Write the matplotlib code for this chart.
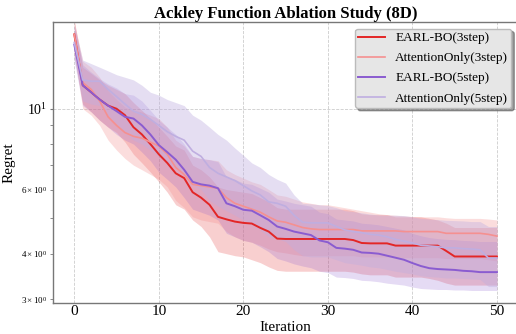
import numpy as np
import matplotlib
matplotlib.use("Agg")
import matplotlib.pyplot as plt

plt.rcParams['font.family'] = ['Liberation Serif', 'DejaVu Serif']
plt.rcParams['mathtext.fontset'] = 'stix'

iterations = list(range(51))

earl3_mean = [16.0, 11.6, 11.1, 10.6, 10.2, 10.0, 9.6, 8.9, 8.5, 8.0,
              7.5, 7.1, 6.65, 6.45, 5.9, 5.7, 5.45, 5.05, 4.97, 4.9,
              4.86, 4.84, 4.71, 4.60, 4.40, 4.39, 4.39, 4.39, 4.39, 4.39,
              4.39, 4.39, 4.39, 4.36, 4.28, 4.27, 4.27, 4.27, 4.21, 4.21,
              4.21, 4.21, 4.21, 4.21, 4.07, 3.93, 3.93, 3.93, 3.93, 3.93, 3.93]
earl3_low = [14.0, 10.3, 9.8, 9.3, 8.9, 8.6, 8.1, 7.5, 7.1, 6.7,
             6.3, 5.9, 5.45, 5.3, 4.95, 4.75, 4.45, 4.05, 4.0, 3.95,
             3.92, 3.85, 3.78, 3.68, 3.6, 3.58, 3.58, 3.58, 3.58, 3.58,
             3.58, 3.58, 3.58, 3.56, 3.52, 3.5, 3.5, 3.5, 3.45, 3.45,
             3.45, 3.45, 3.42, 3.38, 3.32, 3.28, 3.28, 3.28, 3.28, 3.28, 3.28]
earl3_high = [17.5, 13.0, 12.5, 12.0, 11.6, 11.3, 11.0, 10.4, 9.9, 9.4,
              8.9, 8.4, 7.9, 7.7, 7.0, 6.8, 6.5, 6.1, 6.0, 5.95,
              5.9, 5.85, 5.7, 5.55, 5.35, 5.3, 5.3, 5.3, 5.3, 5.3,
              5.3, 5.3, 5.3, 5.25, 5.15, 5.12, 5.12, 5.12, 5.05, 5.05,
              5.05, 5.05, 5.0, 4.95, 4.85, 4.72, 4.72, 4.72, 4.72, 4.72, 4.72]

att3_mean = [16.0, 11.8, 11.3, 10.5, 9.5, 9.0, 8.6, 8.4, 8.3, 8.1,
             7.9, 7.5, 6.9, 6.6, 6.2, 6.15, 6.1, 6.05, 5.7, 5.5,
             5.4, 5.3, 5.2, 5.05, 4.92, 4.88, 4.8, 4.72, 4.68, 4.66,
             4.66, 4.66, 4.66, 4.66, 4.62, 4.62, 4.62, 4.62, 4.62, 4.6,
             4.6, 4.6, 4.6, 4.6, 4.55, 4.55, 4.55, 4.55, 4.55, 4.52, 4.47]
att3_low = [14.2, 10.0, 9.6, 9.0, 8.2, 7.7, 7.3, 7.0, 6.8, 6.6,
            6.4, 6.1, 5.6, 5.35, 5.05, 4.95, 4.9, 4.85, 4.6, 4.45,
            4.35, 4.3, 4.22, 4.12, 4.05, 4.02, 3.98, 3.95, 3.95, 3.95,
            3.95, 3.95, 3.95, 3.95, 3.92, 3.92, 3.92, 3.92, 3.92, 3.9,
            3.9, 3.9, 3.9, 3.9, 3.88, 3.88, 3.88, 3.88, 3.88, 3.85, 3.82]
att3_high = [17.3, 13.5, 13.0, 12.2, 11.2, 10.6, 10.1, 9.9, 9.8, 9.6,
             9.4, 8.9, 8.2, 7.9, 7.4, 7.3, 7.25, 7.2, 6.8, 6.6,
             6.45, 6.3, 6.2, 6.0, 5.8, 5.75, 5.65, 5.55, 5.5, 5.45,
             5.45, 5.4, 5.35, 5.3, 5.25, 5.2, 5.15, 5.12, 5.1, 5.08,
             5.06, 5.05, 5.05, 5.05, 5.02, 5.0, 5.0, 5.0, 5.0, 4.98, 4.95]

earl5_mean = [15.0, 11.6, 11.1, 10.6, 10.2, 9.85, 9.5, 9.4, 9.0, 8.5,
              7.95, 7.6, 7.25, 6.8, 6.3, 6.2, 6.15, 6.05, 5.5, 5.4,
              5.28, 5.25, 5.1, 4.95, 4.75, 4.68, 4.6, 4.55, 4.5, 4.35,
              4.3, 4.15, 4.13, 4.1, 4.03, 4.02, 4.0, 3.95, 3.9, 3.85,
              3.77, 3.7, 3.65, 3.63, 3.62, 3.61, 3.59, 3.58, 3.56, 3.56, 3.56]
earl5_low = [13.5, 10.2, 9.8, 9.3, 8.9, 8.5, 8.2, 8.0, 7.6, 7.2,
             6.7, 6.4, 6.1, 5.7, 5.3, 5.2, 5.1, 4.95, 4.55, 4.45,
             4.35, 4.3, 4.18, 4.05, 3.88, 3.82, 3.75, 3.7, 3.66, 3.58,
             3.55, 3.45, 3.44, 3.42, 3.38, 3.37, 3.35, 3.32, 3.3, 3.28,
             3.24, 3.21, 3.2, 3.19, 3.19, 3.18, 3.18, 3.17, 3.17, 3.17, 3.17]
earl5_high = [16.8, 13.2, 12.6, 12.1, 11.7, 11.4, 11.0, 10.9, 10.5, 9.9,
              9.3, 8.9, 8.5, 8.0, 7.4, 7.3, 7.25, 7.15, 6.5, 6.4,
              6.25, 6.2, 6.05, 5.9, 5.65, 5.58, 5.5, 5.45, 5.4, 5.2,
              5.15, 4.98, 4.95, 4.92, 4.85, 4.83, 4.8, 4.75, 4.7, 4.65,
              4.55, 4.48, 4.43, 4.4, 4.38, 4.37, 4.35, 4.34, 4.32, 4.32, 4.32]

att5_mean = [15.2, 12.0, 11.9, 11.9, 11.3, 10.8, 10.3, 9.85, 9.65, 9.35,
             9.0, 8.65, 8.4, 8.2, 7.65, 7.4, 6.9, 6.65, 6.5, 6.35,
             6.15, 5.95, 5.8, 5.55, 5.5, 5.4, 5.1, 4.88, 4.86, 4.86,
             4.86, 4.75, 4.65, 4.6, 4.57, 4.52, 4.5, 4.45, 4.38, 4.33,
             4.28, 4.22, 4.2, 4.18, 4.15, 4.15, 4.13, 4.12, 4.1, 3.89, 3.89]
att5_low = [13.8, 10.5, 10.3, 10.2, 9.6, 9.1, 8.6, 8.2, 8.0, 7.7,
            7.4, 7.1, 6.85, 6.65, 6.2, 6.0, 5.6, 5.4, 5.25, 5.1,
            4.95, 4.8, 4.65, 4.45, 4.4, 4.32, 4.1, 3.95, 3.92, 3.92,
            3.92, 3.85, 3.78, 3.75, 3.72, 3.68, 3.66, 3.62, 3.58, 3.55,
            3.52, 3.48, 3.46, 3.45, 3.43, 3.43, 3.42, 3.41, 3.4, 3.25, 3.25]
att5_high = [17.0, 13.6, 13.3, 13.0, 12.7, 12.4, 12.2, 12.0, 11.6, 11.1,
             10.9, 10.6, 10.4, 10.2, 9.6, 9.3, 8.9, 8.5, 8.2, 7.8,
             7.45, 7.1, 6.9, 6.6, 6.4, 6.25, 5.8, 5.5, 5.48, 5.45,
             5.42, 5.35, 5.25, 5.22, 5.18, 5.14, 5.11, 5.1, 5.1, 5.09,
             5.05, 5.0, 4.98, 4.96, 4.94, 4.93, 4.92, 4.9, 4.9, 4.75, 4.75]

labels = ['EARL-BO(3step)', 'AttentionOnly(3step)', 'EARL-BO(5step)', 'AttentionOnly(5step)']
colors = ['#e32626', '#f59090', '#8a5cd0', '#bfaee0']
fill_alphas = [0.22, 0.3, 0.22, 0.4]
line_widths = [1.4, 1.2, 1.4, 1.2]

series = [
    (earl3_mean, earl3_low, earl3_high),
    (att3_mean, att3_low, att3_high),
    (earl5_mean, earl5_low, earl5_high),
    (att5_mean, att5_low, att5_high),
]

fig = plt.figure(figsize=(5.16, 3.34), dpi=100)
ax = fig.add_axes([0.103, 0.093, 0.901, 0.841])

for (m, lo, hi), lab, c, fa, lw in zip(series, labels, colors, fill_alphas, line_widths):
    ax.fill_between(iterations, lo, hi, color=c, alpha=fa, linewidth=0)
    ax.plot(iterations, m, color=c, lw=lw, label=lab)

ax.set_yscale('log')
ax.set_xlim(-2.5, 52.5)
ax.set_ylim(2.93, 17.3)
ax.set_xticks([0, 10, 20, 30, 40, 50])

ax.grid(True, which='major', linestyle='--', color='#cccccc', linewidth=0.6)
ax.set_axisbelow(True)

for s in ax.spines.values():
    s.set_color('#777777')
    s.set_linewidth(1.0)

ax.tick_params(axis='x', which='major', labelsize=11, length=0, pad=1.5)
ax.tick_params(axis='y', which='major', labelsize=10, color='#777777', length=2.5, pad=2)
ax.tick_params(axis='y', which='minor', labelsize=6.5, color='#777777', length=2, pad=2)

ax.set_title('Ackley Function Ablation Study (8D)', fontsize=12, fontweight='bold', pad=3)
ax.set_xlabel('Iteration', fontsize=11, labelpad=2)
ax.set_ylabel('Regret', fontsize=11, labelpad=4)

leg = ax.legend(loc='upper right', fontsize=9.5, frameon=True, shadow=True,
                facecolor='#e6e6e6', edgecolor='#bbbbbb', framealpha=1.0,
                borderaxespad=0.5, labelspacing=0.6, borderpad=0.25)

fig.savefig('out.png', dpi=100)
